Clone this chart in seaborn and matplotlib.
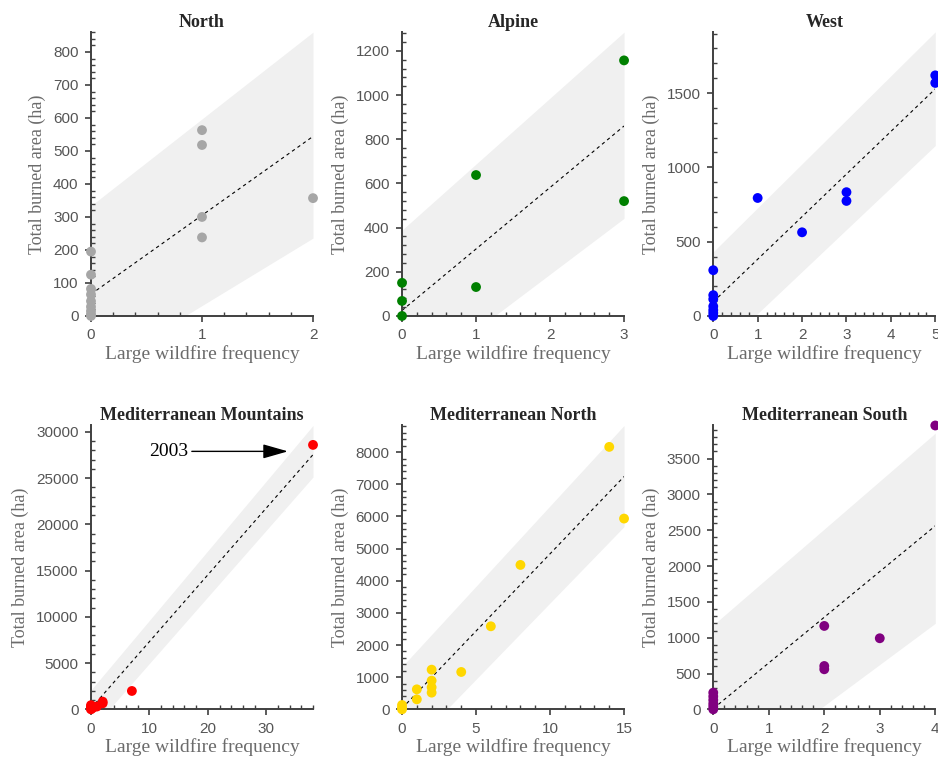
import numpy as np
import matplotlib
matplotlib.use("Agg")
import matplotlib.pyplot as plt
from matplotlib.ticker import MultipleLocator, AutoMinorLocator
import seaborn as sns

# Panel names and marker colours
regions = ["North", "Alpine", "West",
           "Mediterranean Mountains", "Mediterranean North", "Mediterranean South"]
colors = ["#a6a6a6", "#008000", "#0000ff", "#ff0000", "#ffd700", "#800080"]

# Scatter data: large wildfire frequency vs total burned area (ha)
north_x = [0, 0, 0, 0, 0, 0, 0, 0, 0, 1, 1, 1, 1, 2]
north_y = [195, 125, 82, 65, 45, 28, 15, 5, 0, 563, 518, 300, 238, 357]
alpine_x = [0, 0, 0, 1, 1, 3, 3]
alpine_y = [150, 68, 0, 638, 131, 1157, 520]
west_x = [0, 0, 0, 0, 0, 0, 0, 1, 2, 3, 3, 5, 5]
west_y = [308, 140, 113, 65, 40, 20, 0, 794, 563, 833, 774, 1619, 1568]
medmtn_x = [0, 0, 0, 0, 0.3, 1, 2, 2, 7, 38]
medmtn_y = [450, 250, 80, 0, 150, 300, 830, 650, 1986, 28600]
mednorth_x = [0, 0, 0, 1, 1, 2, 2, 2, 2, 4, 6, 8, 14, 15]
mednorth_y = [135, 50, 0, 622, 311, 1234, 892, 685, 519, 1162, 2583, 4492, 8164, 5934]
medsouth_x = [0, 0, 0, 0, 0, 0, 2, 2, 2, 3, 4]
medsouth_y = [233, 180, 130, 80, 40, 0, 1164, 605, 559, 992, 3962]

xs = [north_x, alpine_x, west_x, medmtn_x, mednorth_x, medsouth_x]
ys = [north_y, alpine_y, west_y, medmtn_y, mednorth_y, medsouth_y]

# Fitted line and prediction band, values at x = 0 and x = x_max
x_max = [2, 3, 5, 38, 15, 4]
y_max = [860, 1285, 1910, 30700, 8830, 3962]
fit_line = [[66, 544], [25, 860], [95, 1528], [100, 27545], [31, 7241], [10, 2561]]
band_hi = [[334, 860], [389, 1285], [432, 1912], [2094, 30700], [1328, 8830], [1178, 3855]]
band_lo = [[-173, 236], [-316, 442], [-266, 1147], [-2235, 25126], [-1440, 5685], [-1098, 1201]]

# Major tick steps
x_step = [1, 1, 1, 10, 5, 1]
y_step = [100, 200, 500, 5000, 1000, 500]

sns.set_style("white")
plt.rcParams["font.family"] = ["Liberation Serif", "DejaVu Serif"]

fig = plt.figure(figsize=(9.38, 7.61), dpi=100)

lefts = [0.0970, 0.4286, 0.7604]
bottoms = [0.5848, 0.0679]
w, h = 0.2367, 0.3730

spine_c = "#404040"
tick_c = "#555555"
label_c = "#6b6b6b"

for i, name in enumerate(regions):
    ax = fig.add_axes([lefts[i % 3], bottoms[i // 3], w, h])
    xe = [0, x_max[i]]

    ax.fill_between(xe, band_lo[i], band_hi[i], color="#f0f0f0", lw=0, zorder=0)
    ax.plot(xe, fit_line[i], color="black", ls=(0, (3, 3)), lw=0.8, zorder=2)
    sns.scatterplot(x=xs[i], y=ys[i], ax=ax, color=colors[i], s=50,
                    edgecolor="none", clip_on=False, zorder=5)

    ax.set_xlim(0, x_max[i])
    ax.set_ylim(0, y_max[i])
    ax.xaxis.set_major_locator(MultipleLocator(x_step[i]))
    ax.yaxis.set_major_locator(MultipleLocator(y_step[i]))
    ax.xaxis.set_minor_locator(AutoMinorLocator(5))
    ax.yaxis.set_minor_locator(AutoMinorLocator(5))

    for s in ["top", "right"]:
        ax.spines[s].set_visible(False)
    for s in ["left", "bottom"]:
        ax.spines[s].set_color(spine_c)
        ax.spines[s].set_linewidth(1.4)
        ax.spines[s].set_zorder(3)

    ax.tick_params(which="both", bottom=True, left=True)
    ax.tick_params(which="major", direction="out", length=4, width=1.2,
                   color=spine_c, labelcolor=tick_c, labelsize=11, pad=5)
    ax.tick_params(which="minor", direction="in", length=3, width=1,
                   color=spine_c)
    for lab in ax.get_xticklabels() + ax.get_yticklabels():
        lab.set_fontfamily(["Liberation Sans", "DejaVu Sans"])

    ax.set_title(name, fontsize=13, fontweight="bold", pad=4)
    ax.set_xlabel("Large wildfire frequency", fontsize=14, color=label_c, labelpad=2)
    ax.set_ylabel("Total burned area (ha)", fontsize=13, color=label_c, labelpad=5)

    if name == "Mediterranean Mountains":
        ax.annotate("2003", xy=(33.7, 27900), xytext=(10, 27900),
                    fontsize=14, ha="left", va="center", color="black",
                    arrowprops=dict(arrowstyle="-|>,head_length=0.7,head_width=0.2",
                                    color="black", lw=1,
                                    mutation_scale=22, shrinkA=0, shrinkB=0))

fig.savefig("out.png", dpi=100)
